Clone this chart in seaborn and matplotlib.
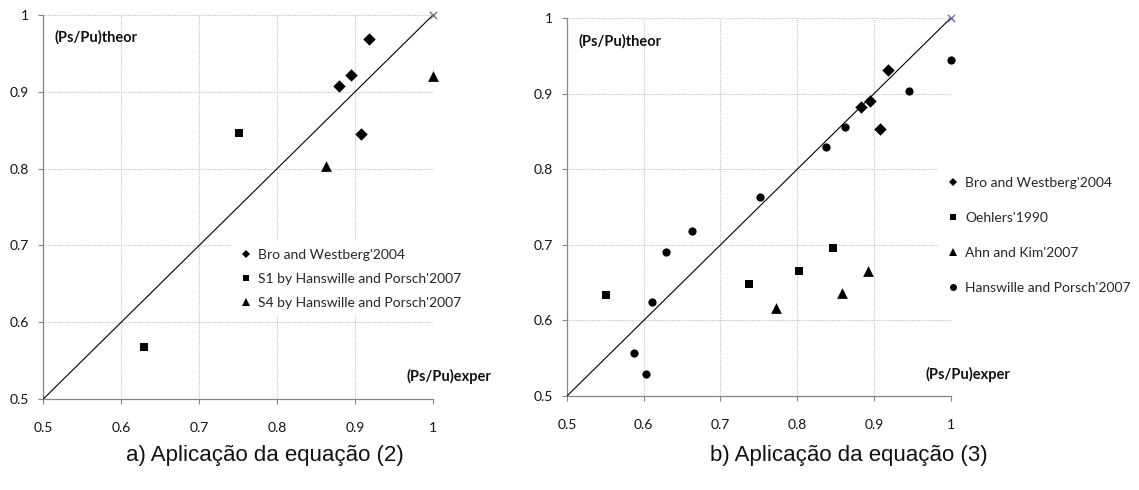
import matplotlib
matplotlib.use("Agg")
import matplotlib.pyplot as plt
from matplotlib.lines import Line2D
import seaborn as sns

# ---------------- data ----------------
ticks = [0.5, 0.6, 0.7, 0.8, 0.9, 1.0]
tick_labels = ["0.5", "0.6", "0.7", "0.8", "0.9", "1"]
diag_x = [0.5, 1.0]
diag_y = [0.5, 1.0]

# panel a
a_bro_x = [0.880, 0.895, 0.918, 0.907]
a_bro_y = [0.907, 0.922, 0.969, 0.845]
a_s1_x = [0.751, 0.629]
a_s1_y = [0.847, 0.568]
a_s4_x = [0.863, 1.000]
a_s4_y = [0.804, 0.921]
a_labels = ["Bro and Westberg'2004", "S1 by Hanswille and Porsch'2007",
            "S4 by Hanswille and Porsch'2007"]

# panel b
b_bro_x = [0.919, 0.883, 0.895, 0.908]
b_bro_y = [0.932, 0.882, 0.891, 0.853]
b_oeh_x = [0.551, 0.737, 0.802, 0.847]
b_oeh_y = [0.634, 0.648, 0.666, 0.696]
b_ahn_x = [0.773, 0.859, 0.892]
b_ahn_y = [0.616, 0.636, 0.665]
b_han_x = [0.587, 0.603, 0.611, 0.629, 0.663, 0.752, 0.838, 0.863, 0.946, 1.000]
b_han_y = [0.557, 0.529, 0.624, 0.690, 0.719, 0.764, 0.830, 0.856, 0.904, 0.945]
b_labels = ["Bro and Westberg'2004", "Oehlers'1990", "Ahn and Kim'2007",
            "Hanswille and Porsch'2007"]

caption_a = "a) Aplicação da equação (2)"
caption_b = "b) Aplicação da equação (3)"
ylab = "(Ps/Pu)theor"
xlab = "(Ps/Pu)exper"

# ---------------- style ----------------
sns.set_style("white")
plt.rcParams["font.family"] = ["Lato", "DejaVu Sans"]

W, H = 1139, 490
fig = plt.figure(figsize=(W / 100, H / 100), dpi=100)


def px_axes(x0, y0, x1, y1):
    return fig.add_axes([x0 / W, 1 - y1 / H, (x1 - x0) / W, (y1 - y0) / H])


axA = px_axes(43.3, 15, 433, 399)
axB = px_axes(567, 18.3, 950.5, 396)

SPINE = "#868686"
MS = {"D": 40, "s": 34, "^": 60, "o": 35}


def style_axes(ax):
    ax.set_xlim(0.5, 1.0)
    ax.set_ylim(0.5, 1.0)
    ax.set_xticks(ticks)
    ax.set_yticks(ticks)
    ax.set_xticklabels(tick_labels)
    ax.set_yticklabels(tick_labels)
    ax.grid(True, linestyle=(0, (1, 1)), color="#c4c4c4", linewidth=0.8)
    ax.set_axisbelow(True)
    for s in ["top", "right"]:
        ax.spines[s].set_visible(False)
    for s in ["left", "bottom"]:
        ax.spines[s].set_color(SPINE)
        ax.spines[s].set_linewidth(0.9)
    ax.tick_params(axis="both", which="both", direction="out", length=3.6,
                   width=0.8, color=SPINE, labelsize=10, labelcolor="#111111",
                   left=True, bottom=True)
    ax.tick_params(axis="x", pad=13)
    ax.tick_params(axis="y", pad=6.5)
    ax.set_xlabel("")
    ax.set_ylabel("")


def pts(ax, x, y, m):
    sns.scatterplot(x=x, y=y, marker=m, color="black", s=MS[m], linewidth=0,
                    clip_on=False, zorder=4, legend=False, ax=ax)


for ax in (axA, axB):
    sns.lineplot(x=diag_x, y=diag_y, color="black", linewidth=0.8, ax=ax,
                 legend=False, zorder=3)
    sns.scatterplot(x=[1.0], y=[1.0], marker="x", color="#8064a2", s=28,
                    linewidth=1.0, clip_on=False, zorder=5, legend=False, ax=ax)

pts(axA, a_bro_x, a_bro_y, "D")
pts(axA, a_s1_x, a_s1_y, "s")
pts(axA, a_s4_x, a_s4_y, "^")

pts(axB, b_bro_x, b_bro_y, "D")
pts(axB, b_oeh_x, b_oeh_y, "s")
pts(axB, b_ahn_x, b_ahn_y, "^")
pts(axB, b_han_x, b_han_y, "o")

for ax in (axA, axB):
    style_axes(ax)

# axis annotation labels (inside plot)
LBL = dict(fontsize=10.5, fontweight="bold", va="center", ha="left",
           color="#111111")
axA.text(0.0275, 0.943, ylab, transform=axA.transAxes, **LBL)
axA.text(0.931, 0.058, xlab, transform=axA.transAxes, **LBL)
axB.text(0.031, 0.94, ylab, transform=axB.transAxes, **LBL)
axB.text(0.935, 0.056, xlab, transform=axB.transAxes, **LBL)


def handle(m, size):
    return Line2D([], [], marker=m, color="black", linestyle="none",
                  markersize=size, markeredgewidth=0)


hsz = {"D": 3.6, "s": 5.0, "^": 5.4, "o": 5.0}
LEG = dict(loc="upper left", frameon=True, facecolor="white", edgecolor="none",
           framealpha=1, fontsize=10, handlelength=1.0, handletextpad=0.4,
           borderpad=0.55, borderaxespad=0, fancybox=False)
legA = fig.legend([handle("D", hsz["D"]), handle("s", hsz["s"]), handle("^", hsz["^"])],
                  a_labels, bbox_to_anchor=(231 / W, 1 - 241 / H),
                  labelspacing=0.86, **LEG)
legB = fig.legend([handle("D", hsz["D"]), handle("s", hsz["s"]), handle("^", hsz["^"]),
                   handle("o", hsz["o"])],
                  b_labels, bbox_to_anchor=(938 / W, 1 - 169 / H),
                  labelspacing=1.66, **LEG)

CAP = dict(ha="center", va="center", fontsize=16,
           family=["Liberation Sans", "DejaVu Sans"], color="#111111")
fig.text(264.5 / W, 1 - 455 / H, caption_a, **CAP)
fig.text(849 / W, 1 - 455 / H, caption_b, **CAP)

fig.savefig("out.png", dpi=100)
